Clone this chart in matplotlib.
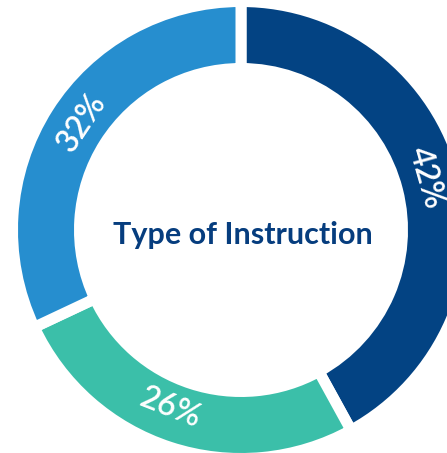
import numpy as np
import matplotlib.pyplot as plt
import matplotlib as mpl

mpl.rcParams['font.family'] = ['Lato', 'DejaVu Sans']

# Data
categories = ['Type A', 'Type B', 'Type C']
shares = [42, 26, 32]
colors = ['#034383', '#3bbfa9', '#268ecf']
title = 'Type of Instruction'

# Layout in pixels (figure is 447 x 453 at dpi 100)
W, H = 447, 453
cx, cy = 241, H - 230
r_out, r_in = 223, 167
gap = 11
label_nudge = [1.5, -3.5, -1.5]  # degrees, counter-clockwise


def run():
    fig = plt.figure(figsize=(W / 100, H / 100), dpi=100)
    ax = fig.add_axes([0, 0, 1, 1])

    ax.pie(
        shares,
        colors=colors,
        startangle=90,
        counterclock=False,
        center=(cx, cy),
        radius=r_out + gap / 2,
        frame=True,
        wedgeprops=dict(width=(r_out - r_in) + gap, edgecolor='white',
                        linewidth=gap * 72 / 100),
    )
    ax.set_xlim(0, W)
    ax.set_ylim(0, H)
    ax.set_aspect('equal')
    ax.axis('off')

    # Percent labels along the ring
    r_lab = 192
    start = 90.0
    for val, nudge in zip(shares, label_nudge):
        sweep = val / sum(shares) * 360
        mid = start - sweep / 2 + nudge
        start -= sweep
        th = np.deg2rad(mid)
        x = cx + r_lab * np.cos(th)
        y = cy + r_lab * np.sin(th)
        rot = mid - 90
        if np.sin(th) < -0.3:
            rot = mid + 90
        ax.text(x, y, f'{val}%', color='white', fontsize=23,
                fontweight='semibold', rotation=rot, rotation_mode='anchor',
                ha='center', va='center')

    ax.text(cx + 2, cy - 5, title, color='#063d7e', fontsize=22,
            fontweight='bold', ha='center', va='center')

    fig.savefig('out.png', dpi=100)


if __name__ == '__main__':
    run()
